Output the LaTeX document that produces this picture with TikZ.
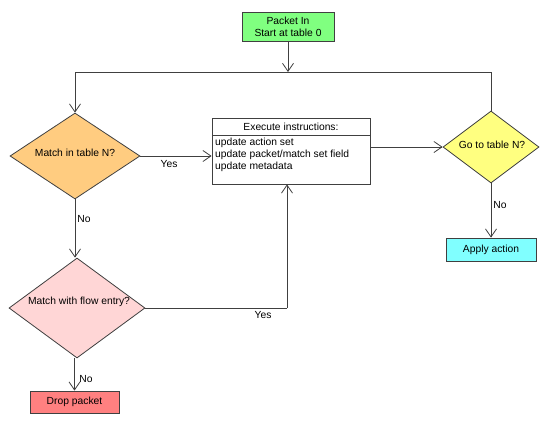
\documentclass[tikz,border=0pt]{standalone}
\usepackage{fontspec}
\setmainfont{Liberation Sans}
\usetikzlibrary{shapes.geometric,arrows.meta}
\definecolor{cgreen}{HTML}{80FF80}
\definecolor{corange}{HTML}{FFCC80}
\definecolor{cpink}{HTML}{FFD6D6}
\definecolor{cyel}{HTML}{FFFF80}
\definecolor{ccyan}{HTML}{80FFFF}
\definecolor{cred}{HTML}{FF8080}
\definecolor{cline}{HTML}{404040}
\begin{document}
\begin{tikzpicture}[x=1pt,y=-1pt,
  every node/.style={font=\fontsize{10.3}{12}\selectfont, text=black},
  boxn/.style={draw=cline, line width=0.8pt, rectangle, inner sep=0pt, align=center},
  dia/.style={draw=cline, line width=0.8pt, diamond, inner sep=0pt, aspect=1},
  conn/.style={draw=cline, line width=0.8pt},
  arr/.style={conn, -{Straight Barb[length=8pt,width=11pt,line width=0.8pt]}},
  lbl/.style={inner sep=0pt}]
\useasboundingbox (0,0) rectangle (540,424);
\fill[white] (0,0) rectangle (540,424);
% nodes
\node[boxn, fill=cgreen, minimum width=92pt, minimum height=29pt] (pin) at (288,26.5) {Packet In\\Start at table 0};
\node[dia, fill=corange, minimum width=130pt, minimum height=86pt] (m1) at (75,156) {};
\node[lbl] at (75,153) {Match in table N?};
\node[dia, fill=cpink, minimum width=136pt, minimum height=100pt] (m2) at (77,308) {};
\node[lbl] at (79,302) {Match with flow entry?};
\node[dia, fill=cyel, minimum width=96pt, minimum height=72pt] (g) at (491,147) {};
\node[lbl] at (492,145) {Go to table N?};
\node[boxn, fill=ccyan, minimum width=90pt, minimum height=23pt] (ap) at (491,249.5) {Apply action};
\node[boxn, fill=cred, minimum width=89pt, minimum height=22pt] (dp) at (74.5,402) {Drop packet};
\node[boxn, fill=white, minimum width=158pt, minimum height=66pt] (ex) at (291,151) {};
\draw[conn] (212,135) -- (370,135);
\node[lbl] at (291,127) {Execute instructions:};
\node[lbl, anchor=north west, align=left] at (215,137.5) {update action set\\update packet/match set field\\update metadata};
% junction coordinates
\coordinate (tl) at (75,72);
\coordinate (tr) at (491,72);
\coordinate (yb) at (287,308);
% connectors
\draw[arr] (pin.south) -- (pin.south |- tl);
\draw[conn] (tl) -- (tr);
\draw[arr] (tl) -- (m1.north);
\draw[conn] (g.north) -- (tr);
\draw[arr] (m1.east) -- (ex.west |- m1.east);
\draw[arr] (ex.east |- g.west) -- (g.west);
\draw[arr] (g.south) -- (ap.north);
\draw[arr] (m1.south) -- (m1.south |- m2.north);
\draw[conn] (m2.east) -- (yb);
\draw[arr] (yb) -- (yb |- ex.south);
\draw[arr] (m2.south -| dp.north) -- (dp.north);
% labels
\node[lbl] at (169,164) {Yes};
\node[lbl] at (84,219) {No};
\node[lbl] at (500,205) {No};
\node[lbl] at (263,315) {Yes};
\node[lbl] at (86,379) {No};
\end{tikzpicture}
\end{document}
